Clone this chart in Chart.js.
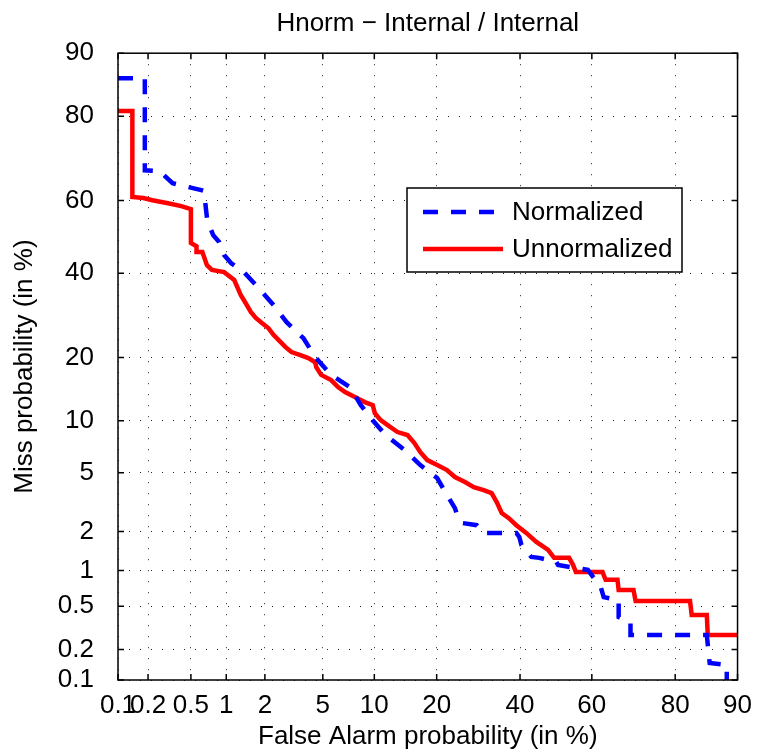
<!DOCTYPE html>
<html>
<head>
<meta charset="utf-8">
<script src="https://cdn.jsdelivr.net/npm/chart.js@4.4.1/dist/chart.umd.min.js"></script>
<style>
  html, body { margin: 0; padding: 0; background: #fff; }
  #wrap { width: 762px; height: 752px; }
</style>
</head>
<body>
<div id="wrap"><canvas id="detChart" width="762" height="752"></canvas></div>
<script>
// Tick labels (percent) used on both axes
const xTicks = [0.1, 0.2, 0.5, 1, 2, 5, 10, 20, 40, 60, 80, 90];
const yTicks = [0.1, 0.2, 0.5, 1, 2, 5, 10, 20, 40, 60, 80, 90];

// Normalized: false alarm % / miss %
const normFA = [0.1, 0.186, 0.186, 0.258, 0.341, 0.617, 0.65, 0.693, 0.779, 0.873, 0.96, 1.093, 1.384, 1.8, 2.32, 2.87, 3.74, 4.47, 5.63, 7.31, 8.43, 9.57, 11.47, 14.26, 16.93, 20.1, 21.5, 23.8, 24.3, 25.4, 28.8, 30.3, 39.0, 39.8, 40.4, 43.1, 45.3, 50.1, 50.6, 58.9, 62.4, 63.2, 67.1, 67.1, 70.06, 70.06, 85.65, 86.1, 88.6, 88.6];
const normMiss = [86.6, 86.6, 67.9, 67.7, 64.6, 62.8, 62.6, 54.7, 50.5, 48.6, 45.0, 42.8, 40.3, 36.05, 31.7, 27.6, 24.0, 20.1, 16.8, 14.75, 12.04, 10.32, 8.35, 6.86, 5.58, 4.63, 3.87, 2.93, 2.62, 2.3, 2.22, 1.95, 1.95, 1.82, 1.58, 1.28, 1.26, 1.17, 1.106, 1.01, 0.73, 0.6, 0.567, 0.401, 0.362, 0.275, 0.275, 0.148, 0.142, 0.1];

// Unnormalized: false alarm % / miss %
const unnormFA = [0.1, 0.14, 0.14, 0.18, 0.22, 0.31, 0.41, 0.5, 0.5, 0.56, 0.56, 0.63, 0.69, 0.76, 0.96, 1.16, 1.31, 1.43, 1.57, 1.71, 1.9, 2.13, 2.32, 2.52, 2.82, 3.1, 3.57, 4.03, 4.47, 4.54, 4.88, 5.63, 6.21, 6.83, 7.8, 8.87, 9.81, 10.06, 10.81, 11.75, 13.18, 14.74, 15.9, 16.93, 18.2, 20.1, 22.1, 23.8, 26.05, 28.1, 30.5, 32.5, 33.8, 35.1, 36.9, 39.0, 41.7, 44.5, 47.8, 49.5, 53.7, 54.8, 55.6, 62.9, 63.7, 66.8, 67.1, 70.8, 71.3, 82.8, 83.1, 85.65, 85.8, 90];
const unnormMiss = [81.0, 81.0, 61.0, 60.7, 60.1, 59.3, 58.5, 57.7, 48.3, 47.4, 45.8, 45.8, 42.2, 40.9, 40.3, 38.2, 34.2, 32.2, 30.0, 28.6, 27.4, 26.2, 24.7, 23.6, 22.1, 21.1, 20.5, 19.9, 19.1, 18.2, 16.8, 15.9, 14.75, 13.96, 13.2, 12.47, 12.04, 10.96, 10.07, 9.47, 8.68, 8.35, 7.53, 6.67, 5.98, 5.58, 5.2, 4.7, 4.37, 4.05, 3.87, 3.7, 3.22, 2.71, 2.5, 2.22, 1.95, 1.67, 1.45, 1.26, 1.26, 1.11, 0.97, 0.97, 0.84, 0.84, 0.69, 0.69, 0.555, 0.555, 0.418, 0.418, 0.275, 0.275];

const FONT = "'Liberation Sans', Arial, sans-serif";

// inverse normal cdf (Acklam)
function probit(p) {
  const a = [-39.69683028665376, 220.9460984245205, -275.9285104469687, 138.3577518672690, -30.66479806614716, 2.506628277459239];
  const b = [-54.47609879822406, 161.5858368580409, -155.6989798598866, 66.80131188771972, -13.28068155288572];
  const c = [-0.007784894002430293, -0.3223964580411365, -2.400758277161838, -2.549671348133584, 4.374664141464968, 2.938163982698783];
  const d = [0.007784695709041462, 0.3224671290700398, 2.445134137142996, 3.754408661907416];
  const pl = 0.02425;
  if (p < pl) {
    const q = Math.sqrt(-2 * Math.log(p));
    return (((((c[0]*q+c[1])*q+c[2])*q+c[3])*q+c[4])*q+c[5]) / ((((d[0]*q+d[1])*q+d[2])*q+d[3])*q+1);
  }
  if (p > 1 - pl) {
    const q = Math.sqrt(-2 * Math.log(1 - p));
    return -(((((c[0]*q+c[1])*q+c[2])*q+c[3])*q+c[4])*q+c[5]) / ((((d[0]*q+d[1])*q+d[2])*q+d[3])*q+1);
  }
  const q = p - 0.5, r = q * q;
  return (((((a[0]*r+a[1])*r+a[2])*r+a[3])*r+a[4])*r+a[5])*q / (((((b[0]*r+b[1])*r+b[2])*r+b[3])*r+b[4])*r+1);
}

function normCdf(z) {
  // Abramowitz-Stegun erf approximation
  const x = Math.abs(z) / Math.SQRT2;
  const t = 1 / (1 + 0.3275911 * x);
  const y = 1 - (((((1.061405429*t - 1.453152027)*t) + 1.421413741)*t - 0.284496736)*t + 0.254829592)*t*Math.exp(-x*x);
  return z >= 0 ? 0.5 * (1 + y) : 0.5 * (1 - y);
}

// Normal deviate scale, values given in percent
class ProbitScale extends Chart.LinearScale {
  determineDataLimits() {
    this.min = this.options.min;
    this.max = this.options.max;
  }
  getPixelForValue(value) {
    const z0 = probit(this.min / 100), z1 = probit(this.max / 100);
    return this.getPixelForDecimal((probit(value / 100) - z0) / (z1 - z0));
  }
  getValueForPixel(pixel) {
    const z0 = probit(this.min / 100), z1 = probit(this.max / 100);
    return 100 * normCdf(z0 + this.getDecimalForPixel(pixel) * (z1 - z0));
  }
}
ProbitScale.id = 'probit';
ProbitScale.defaults = {};
Chart.register(ProbitScale);

Chart.defaults.color = '#000';
Chart.defaults.font.family = FONT;
Chart.defaults.font.size = 26;

// frame, inward ticks and legend box
const framePlugin = {
  id: 'frame',
  afterDraw(chart) {
    const { ctx, chartArea: a, scales } = chart;
    ctx.save();
    ctx.strokeStyle = '#000';
    ctx.lineWidth = 1.5;
    ctx.setLineDash([]);
    ctx.strokeRect(a.left, a.top, a.right - a.left, a.bottom - a.top);
    ctx.beginPath();
    xTicks.forEach(v => {
      const px = scales.x.getPixelForValue(v);
      ctx.moveTo(px, a.bottom); ctx.lineTo(px, a.bottom - 6);
      ctx.moveTo(px, a.top); ctx.lineTo(px, a.top + 6);
    });
    yTicks.forEach(v => {
      const py = scales.y.getPixelForValue(v);
      ctx.moveTo(a.left, py); ctx.lineTo(a.left + 6, py);
      ctx.moveTo(a.right, py); ctx.lineTo(a.right - 6, py);
    });
    ctx.stroke();

    // legend
    const lx = 407, ly = 188, lw = 275, lh = 84;
    ctx.fillStyle = '#fff';
    ctx.fillRect(lx, ly, lw, lh);
    ctx.strokeRect(lx, ly, lw, lh);
    chart.data.datasets.forEach((ds, i) => {
      const y = ly + 24 + i * 37;
      ctx.beginPath();
      ctx.strokeStyle = ds.borderColor;
      ctx.lineWidth = ds.borderWidth;
      ctx.setLineDash(ds.borderDash || []);
      ctx.moveTo(lx + 16, y);
      ctx.lineTo(lx + 96, y);
      ctx.stroke();
      ctx.setLineDash([]);
      ctx.fillStyle = '#000';
      ctx.font = '26px ' + FONT;
      ctx.textBaseline = 'middle';
      ctx.fillText(ds.label, lx + 105, y + 1);
    });
    ctx.restore();
  }
};

function axisOpts(ticks, title, isX) {
  return {
    type: 'probit',
    position: isX ? 'bottom' : 'left',
    min: 0.1,
    max: 90,
    afterBuildTicks: s => { s.ticks = ticks.map(v => ({ value: v })); },
    afterFit: s => { if (isX) s.height = 72; else s.width = 118; },
    grid: { color: '#222', lineWidth: 1, drawTicks: false },
    border: { display: false, dash: [1, 10] },
    ticks: {
      autoSkip: false,
      maxRotation: 0,
      minRotation: 0,
      padding: isX ? 10 : 24,
      font: { size: 26 },
      callback: v => String(v)
    },
    title: {
      display: true,
      text: title,
      font: { size: 26 },
      padding: isX ? { top: 0, bottom: 0 } : { top: 9, bottom: 0 }
    }
  };
}

const toPoints = (xs, ys) => xs.map((x, i) => ({ x, y: ys[i] }));

new Chart(document.getElementById('detChart'), {
  type: 'line',
  data: {
    datasets: [
      {
        label: 'Normalized',
        data: toPoints(normFA, normMiss),
        borderColor: '#0000ff',
        borderWidth: 4.5,
        borderDash: [15, 13],
        pointRadius: 0,
        tension: 0,
        fill: false
      },
      {
        label: 'Unnormalized',
        data: toPoints(unnormFA, unnormMiss),
        borderColor: '#ff0000',
        borderWidth: 4.5,
        pointRadius: 0,
        tension: 0,
        fill: false
      }
    ]
  },
  options: {
    responsive: false,
    animation: false,
    devicePixelRatio: 1,
    layout: { padding: { left: 0, right: 19, top: 0, bottom: 0 } },
    plugins: {
      legend: { display: false },
      tooltip: { enabled: false },
      title: {
        display: true,
        fullSize: false,
        text: 'Hnorm \u2212 Internal / Internal',
        font: { size: 26, weight: 'normal' },
        padding: { top: 8, bottom: 14 }
      }
    },
    scales: {
      x: axisOpts(xTicks, 'False Alarm probability (in %)', true),
      y: axisOpts(yTicks, 'Miss probability (in %)', false)
    }
  },
  plugins: [framePlugin]
});
</script>
</body>
</html>
